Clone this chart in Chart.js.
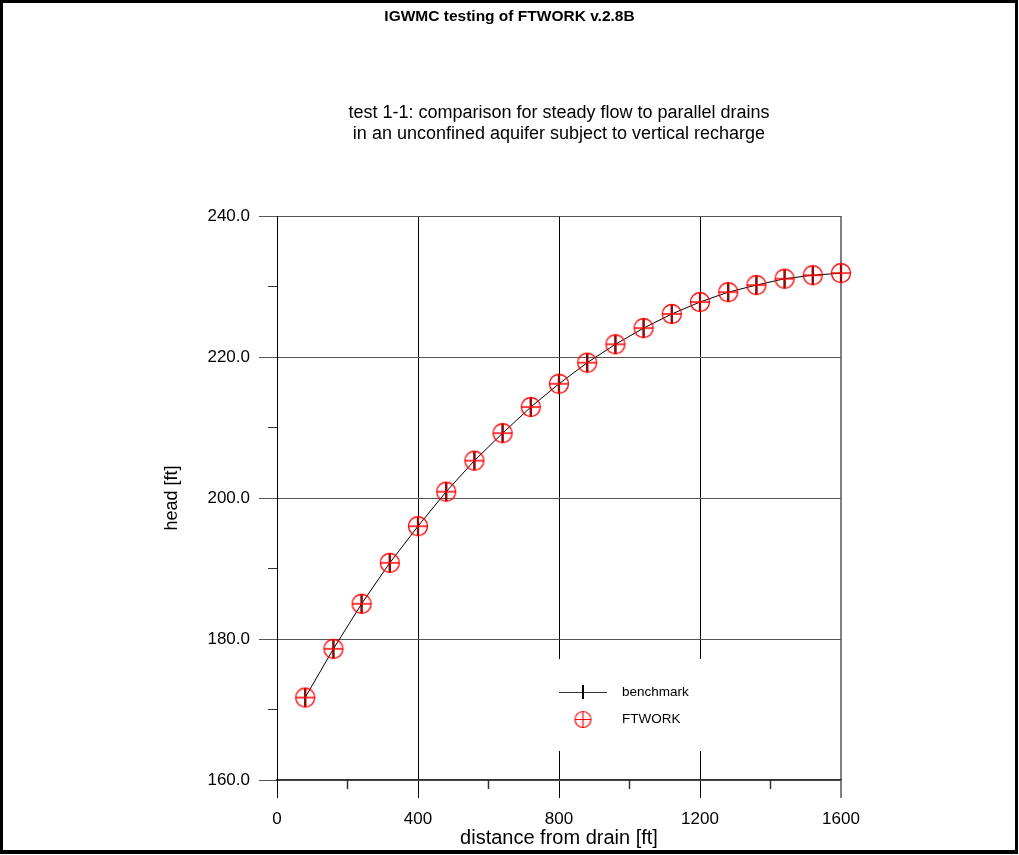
<!DOCTYPE html>
<html>
<head>
<meta charset="utf-8">
<script src="https://cdn.jsdelivr.net/npm/chart.js@4/dist/chart.umd.min.js"></script>
<style>
html,body{margin:0;padding:0;background:#fff;}
#wrap{position:relative;width:1019px;height:855px;overflow:hidden;}
#frame{position:absolute;left:0;top:0;width:1018px;height:854px;box-sizing:border-box;border-left:3px solid #000;border-top:3px solid #000;border-right:3px solid #000;border-bottom:4px solid #000;pointer-events:none;}
canvas{display:block;}
</style>
</head>
<body>
<div id="wrap"><canvas id="c" width="1019" height="855"></canvas><div id="frame"></div></div>
<script>
// ---- data ----
const distance = [80,160,240,320,400,480,560,640,720,800,880,960,1040,1120,1200,1280,1360,1440,1520,1600];
const benchmark = [171.7,178.6,185.0,190.8,196.0,200.9,205.3,209.2,212.9,216.2,219.2,221.8,224.1,226.1,227.8,229.2,230.2,231.1,231.6,231.9];
const ftwork    = [171.7,178.6,185.0,190.8,196.0,200.9,205.3,209.2,212.9,216.2,219.2,221.8,224.1,226.1,227.8,229.2,230.2,231.1,231.6,231.9];
const xTicksMajor = [0,400,800,1200,1600];
const yTicksMajor = [160,180,200,220,240];
const seriesNames = ['benchmark','FTWORK'];
const titleText = 'IGWMC testing of FTWORK v.2.8B';
const subtitleLines = ['test 1-1: comparison for steady flow to parallel drains','in an unconfined aquifer subject to vertical recharge'];
const xTitle = 'distance from drain [ft]';
const yTitle = 'head [ft]';

const FONT = 'Arial, "Liberation Sans", Helvetica, sans-serif';

function crossCircle(r, lw) {
  const s = Math.ceil(2 * r + 3);
  const cv = document.createElement('canvas');
  cv.width = s; cv.height = s;
  const g = cv.getContext('2d');
  const c = s / 2;
  g.strokeStyle = '#ff0000';
  g.lineWidth = lw;
  g.beginPath(); g.arc(c, c, r, 0, Math.PI * 2); g.stroke();
  g.beginPath();
  g.moveTo(c - r, c); g.lineTo(c + r, c);
  g.moveTo(c, c - r); g.lineTo(c, c + r);
  g.stroke();
  return cv;
}
const ftMarker = crossCircle(9.5, 1.3);
const ftLegendMarker = crossCircle(8, 1.2);

const toXY = (xs, ys) => xs.map((x, i) => ({x: x, y: ys[i]}));

const legendPlugin = {
  id: 'boxLegend',
  afterDraw(chart) {
    const ctx = chart.ctx;
    const x0 = 540, y0 = 659, w = 185, h = 92;
    ctx.save();
    ctx.fillStyle = '#fff';
    ctx.fillRect(x0, y0, w, h);
    ctx.strokeStyle = '#333';
    ctx.lineWidth = 1;
    ctx.beginPath(); ctx.moveTo(559, 692.5); ctx.lineTo(607, 692.5); ctx.stroke();
    ctx.strokeStyle = '#000';
    ctx.lineWidth = 2;
    ctx.beginPath(); ctx.moveTo(583, 685); ctx.lineTo(583, 699); ctx.stroke();
    ctx.drawImage(ftLegendMarker, 583 - ftLegendMarker.width / 2, 719.5 - ftLegendMarker.height / 2);
    ctx.fillStyle = '#000';
    ctx.font = '13.5px ' + FONT;
    ctx.textBaseline = 'middle';
    ctx.textAlign = 'left';
    ctx.fillText(seriesNames[0], 622, 692);
    ctx.fillText(seriesNames[1], 622, 719);
    ctx.restore();
  }
};

new Chart(document.getElementById('c'), {
  type: 'scatter',
  data: {
    datasets: [
      {
        label: seriesNames[1],
        data: toXY(distance, ftwork),
        showLine: false,
        pointStyle: ftMarker,
        pointRadius: 10,
        order: 0,
        clip: false
      },
      {
        label: seriesNames[0],
        data: toXY(distance, benchmark),
        showLine: true,
        borderColor: '#000',
        borderWidth: 1,
        tension: 0,
        pointStyle: 'line',
        rotation: 90,
        pointRadius: 9.5,
        pointBorderWidth: 2.2,
        pointBorderColor: '#000',
        pointBackgroundColor: '#000',
        order: 1,
        clip: false
      }
    ]
  },
  options: {
    responsive: false,
    animation: false,
    events: [],
    layout: {padding: 0},
    plugins: {
      legend: {display: false},
      tooltip: {enabled: false},
      title: {
        display: true, text: titleText, color: '#000',
        font: {family: FONT, size: 15.5, weight: 'bold', lineHeight: 1.2},
        padding: {top: 7, bottom: 40}
      },
      subtitle: {
        display: true, text: subtitleLines, color: '#000', fullSize: false,
        font: {family: FONT, size: 18, weight: 'normal', lineHeight: 1.1667},
        padding: {top: 36.9, bottom: 71.5}
      }
    },
    scales: {
      x: {
        type: 'linear', position: 'bottom', min: 0, max: 1600,
        afterBuildTicks: (s) => { s.ticks = xTicksMajor.map(v => ({value: v})); },
        ticks: {color: '#000', font: {family: FONT, size: 17}, padding: 11, maxRotation: 0, callback: (v) => String(v)},
        grid: {
          color: (c) => c.tick && c.tick.value === 1600 ? '#808080' : '#000',
          lineWidth: (c) => c.tick && c.tick.value === 1600 ? 2 : 1,
          tickColor: '#000', tickWidth: 1, tickLength: 18
        },
        border: {display: true, color: '#333', width: 1.5},
        title: {display: true, text: xTitle, color: '#000', font: {family: FONT, size: 20}, padding: {top: 0, bottom: 5}},
        afterFit: (s) => { s.height = 75; }
      },
      y: {
        type: 'linear', position: 'left', min: 160, max: 240,
        afterBuildTicks: (s) => { s.ticks = yTicksMajor.map(v => ({value: v})); },
        ticks: {color: '#000', font: {family: FONT, size: 17}, padding: 9, callback: (v) => Number(v).toFixed(1)},
        grid: {color: '#555', lineWidth: 1, tickColor: '#555', tickLength: 18},
        border: {display: true, color: '#000', width: 1},
        title: {display: true, text: yTitle, color: '#000', font: {family: FONT, size: 18}, padding: {top: 161, bottom: 0}},
        afterFit: (s) => { s.width = 277; }
      },
      xMinor: {
        type: 'linear', position: 'bottom', min: 0, max: 1600, weight: -1,
        ticks: {display: false, stepSize: 200},
        grid: {drawOnChartArea: false, drawTicks: true, tickLength: 9,
               tickColor: (c) => (c.tick && c.tick.value % 400 !== 0) ? '#333' : 'rgba(0,0,0,0)', tickWidth: 1.5},
        border: {display: false},
        afterFit: (s) => { s.height = 0; }
      },
      yMinor: {
        type: 'linear', position: 'left', min: 160, max: 240, weight: -1,
        ticks: {display: false, stepSize: 10},
        grid: {drawOnChartArea: false, drawTicks: true, tickLength: 9,
               tickColor: (c) => (c.tick && c.tick.value % 20 !== 0) ? '#333' : 'rgba(0,0,0,0)', tickWidth: 1},
        border: {display: false},
        afterFit: (s) => { s.width = 0; }
      },
      rightSpace: {
        type: 'linear', position: 'right', min: 0, max: 1,
        ticks: {display: false},
        grid: {display: false, drawTicks: false},
        border: {display: false},
        afterFit: (s) => { s.width = 178; }
      }
    }
  },
  plugins: [legendPlugin]
});
</script>
</body>
</html>
